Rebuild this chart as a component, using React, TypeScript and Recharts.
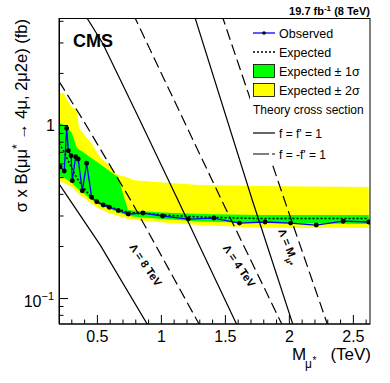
import React from "react";
import { ComposedChart, Area, Line, XAxis, YAxis } from "recharts";

const FONT = "'Liberation Sans', Arial, Helvetica, sans-serif";

// expected limit and bands, mass in TeV, cross section in fb
const bandMass = [0.2, 0.24, 0.255, 0.3, 0.34, 0.356, 0.3875, 0.458, 0.52, 0.583, 0.6375, 0.661, 0.739, 0.778, 0.856, 1.0125, 1.302, 1.77, 2.62];
const expected = [0.79, 0.707, 0.667, 0.563, 0.497, 0.478, 0.441, 0.38, 0.356, 0.343, 0.331, 0.327, 0.316, 0.314, 0.312, 0.304, 0.296, 0.29, 0.29];
const oneSigmaLo = [0.511, 0.497, 0.49, 0.465, 0.435, 0.424, 0.407, 0.371, 0.347, 0.331, 0.321, 0.316, 0.3, 0.298, 0.294, 0.288, 0.279, 0.273, 0.27];
const oneSigmaHi = [1.034, 1.007, 0.993, 0.905, 0.741, 0.727, 0.703, 0.645, 0.599, 0.553, 0.518, 0.504, 0.325, 0.323, 0.32, 0.314, 0.308, 0.304, 0.304];
const twoSigmaLo = [0.478, 0.465, 0.459, 0.441, 0.413, 0.402, 0.386, 0.352, 0.329, 0.3135, 0.304, 0.3, 0.288, 0.286, 0.282, 0.275, 0.266, 0.257, 0.256];
const twoSigmaHi = [1.54, 1.54, 1.44, 1.28, 1.23, 0.967, 0.905, 0.782, 0.655, 0.599, 0.531, 0.52, 0.5, 0.484, 0.478, 0.468, 0.453, 0.447, 0.441];

// observed limit
const obsMass = [0.208, 0.241, 0.26, 0.273, 0.294, 0.304, 0.33, 0.35, 0.382, 0.416, 0.455, 0.495, 0.546, 0.593, 0.663, 0.741, 0.856, 1.01, 1.21, 1.41, 1.61, 1.81, 2.01, 2.21, 2.42, 2.62];
const observed = [0.578, 0.546, 0.963, 0.715, 0.669, 0.48, 0.66, 0.64, 0.42, 0.605, 0.385, 0.363, 0.347, 0.337, 0.323, 0.308, 0.312, 0.3, 0.288, 0.292, 0.273, 0.277, 0.273, 0.266, 0.28, 0.277];

// theory cross sections
const lam8SolidMass = [0.2, 0.52, 0.9];
const lam8Solid = [0.46, 0.205, 0.069];
const lam8DashMass = [0.2, 0.39, 0.77, 1.3];
const lam8Dash = [1.8, 1.07, 0.36, 0.07];
const lam4SolidMass = [0.4, 0.54, 0.83, 1.13, 1.3, 1.6];
const lam4Solid = [4.4, 3.0, 1.08, 0.37, 0.2, 0.068];
const lam4DashMass = [0.78, 1.47, 1.95];
const lam4Dash = [4.4, 0.371, 0.069];
const lamMSolidMass = [1.25, 1.71, 2.03];
const lamMSolid = [4.5, 0.371, 0.07];
const lamMDashMass = [1.47, 1.97, 2.3];
const lamMDash = [4.4, 0.356, 0.07];

const xTicks = [0.3, 0.4, 0.5, 0.6, 0.7, 0.8, 0.9, 1, 1.1, 1.2, 1.3, 1.4, 1.5, 1.6, 1.7, 1.8, 1.9, 2, 2.1, 2.2, 2.3, 2.4, 2.5, 2.6];
const xMajor = [0.5, 1, 1.5, 2, 2.5];
const yTicks = [0.08, 0.09, 0.1, 0.2, 0.3, 0.4, 0.5, 0.6, 0.7, 0.8, 0.9, 1, 2, 3, 4];

const bandData = bandMass.map((m, i) => ({
  m,
  exp: expected[i],
  green: [oneSigmaLo[i], oneSigmaHi[i]],
  yellow: [twoSigmaLo[i], twoSigmaHi[i]],
}));
const pts = (ms: number[], vs: number[]) => ms.map((m, i) => ({ m, v: vs[i] }));
const obsData = pts(obsMass, observed);

const DASH = "11 5";

const XTick = (props: any) => {
  const { x, y, payload } = props;
  const v = Math.round(payload.value * 10) / 10;
  const major = xMajor.includes(v);
  return (
    <g>
      <line x1={x} x2={x} y1={y} y2={y - (major ? 9 : 4.5)} stroke="#000" />
      {major && (
        <text x={x} y={y + 18} textAnchor="middle" fontSize={16} fontFamily={FONT} fill="#000">
          {String(v)}
        </text>
      )}
    </g>
  );
};

const YTick = (props: any) => {
  const { x, y, payload } = props;
  const v = payload.value;
  const major = v === 1 || v === 0.1;
  return (
    <g>
      <line x1={x} x2={x + (major ? 9 : 4.5)} y1={y} y2={y} stroke="#000" />
      {v === 1 && (
        <text x={x - 4} y={y + 5.5} textAnchor="end" fontSize={16} fontFamily={FONT} fill="#000">1</text>
      )}
      {v === 0.1 && (
        <text x={x - 5} y={y + 8} textAnchor="end" fontSize={16} fontFamily={FONT} fill="#000">
          10<tspan dy={-7} fontSize={11}>−1</tspan>
        </text>
      )}
    </g>
  );
};

const lab = { fontFamily: FONT, fill: "#000" };

export default function App() {
  return (
    <div style={{ position: "absolute", left: 0, top: 0, width: 390, height: 383, background: "#fff" }}>
      <ComposedChart width={390} height={383} data={bandData} margin={{ top: 18, right: 20, left: 0, bottom: 0 }}>
        <XAxis
          dataKey="m"
          type="number"
          domain={[0.2, 2.63]}
          allowDataOverflow
          ticks={xTicks}
          interval={0}
          height={59}
          tickSize={0}
          tickMargin={0}
          tickLine={false}
          axisLine={{ stroke: "#000" }}
          tick={<XTick />}
        />
        <YAxis
          scale="log"
          type="number"
          domain={[0.0713, 4.18]}
          allowDataOverflow
          ticks={yTicks}
          interval={0}
          width={59}
          tickSize={0}
          tickMargin={0}
          tickLine={false}
          axisLine={{ stroke: "#000" }}
          tick={<YTick />}
        />
        <Area dataKey="yellow" type="linear" fill="#ffff00" fillOpacity={1} stroke="none" isAnimationActive={false} />
        <Area dataKey="green" type="linear" fill="#00ff00" fillOpacity={1} stroke="none" isAnimationActive={false} />
        <Line dataKey="exp" type="linear" stroke="#000" strokeWidth={1.5} strokeDasharray="2 2" dot={false} isAnimationActive={false} />
        <Line data={obsData} dataKey="v" type="linear" stroke="#0000ff" strokeWidth={1.3} dot={{ r: 1.8, fill: "#000", stroke: "#000" }} isAnimationActive={false} />
        <Line data={pts(lam8SolidMass, lam8Solid)} dataKey="v" type="linear" stroke="#000" strokeWidth={1.2} dot={false} isAnimationActive={false} />
        <Line data={pts(lam8DashMass, lam8Dash)} dataKey="v" type="linear" stroke="#000" strokeWidth={1.2} strokeDasharray={DASH} dot={false} isAnimationActive={false} />
        <Line data={pts(lam4SolidMass, lam4Solid)} dataKey="v" type="linear" stroke="#000" strokeWidth={1.2} dot={false} isAnimationActive={false} />
        <Line data={pts(lam4DashMass, lam4Dash)} dataKey="v" type="linear" stroke="#000" strokeWidth={1.2} strokeDasharray={DASH} dot={false} isAnimationActive={false} />
        <Line data={pts(lamMSolidMass, lamMSolid)} dataKey="v" type="linear" stroke="#000" strokeWidth={1.2} dot={false} isAnimationActive={false} />
        <Line data={pts(lamMDashMass, lamMDash)} dataKey="v" type="linear" stroke="#000" strokeWidth={1.2} strokeDasharray={DASH} dot={false} isAnimationActive={false} />
      </ComposedChart>
      <svg width={390} height={383} style={{ position: "absolute", left: 0, top: 0, pointerEvents: "none" }}>
        {/* legend */}
        <rect x={250} y={20} width={119} height={143} fill="#fff" />
        <line x1={253} x2={275} y1={33} y2={33} stroke="#0000ff" strokeWidth={1.3} />
        <circle cx={264} cy={33} r={1.8} fill="#000" />
        <text x={279} y={37.5} fontSize={12.5} {...lab}>Observed</text>
        <line x1={253} x2={275} y1={52} y2={52} stroke="#000" strokeWidth={1.5} strokeDasharray="2 2" />
        <text x={279} y={56.5} fontSize={12.5} {...lab}>Expected</text>
        <rect x={253.5} y={64.5} width={21} height={13} fill="#00ff00" stroke="#000" strokeWidth={0.8} />
        <text x={279} y={75.5} fontSize={12.5} {...lab}>Expected ± 1σ</text>
        <rect x={253.5} y={83.5} width={21} height={13} fill="#ffff00" stroke="#000" strokeWidth={0.8} />
        <text x={279} y={94.5} fontSize={12.5} {...lab}>Expected ± 2σ</text>
        <text x={253} y={113.5} fontSize={12} {...lab}>Theory cross section</text>
        <line x1={253} x2={275} y1={133} y2={133} stroke="#000" strokeWidth={1.2} />
        <text x={279} y={137.5} fontSize={12} {...lab}>f = f' = 1</text>
        <line x1={253} x2={275} y1={154} y2={154} stroke="#000" strokeWidth={1.2} strokeDasharray="16 3 3 3" />
        <text x={279} y={158.5} fontSize={12} {...lab}>f = -f' = 1</text>

        {/* labels */}
        <text x={73} y={47} fontSize={18} fontWeight="bold" {...lab}>CMS</text>
        <text x={370} y={15} fontSize={11} fontWeight="bold" textAnchor="end" {...lab}>
          19.7 fb<tspan dy={-4} fontSize={8}>-1</tspan><tspan dy={4}> (8 TeV)</tspan>
        </text>
        <text transform="translate(27,19) rotate(-90)" fontSize={16.5} textAnchor="end" {...lab}>
          σ x B(μμ<tspan dy={-6} fontSize={12}>*</tspan><tspan dy={6}> → 4μ, 2μ2e) (fb)</tspan>
        </text>
        <text x={292} y={360} fontSize={17} {...lab}>M</text>
        <text x={305} y={368} fontSize={12} {...lab}>μ</text>
        <text x={312.5} y={364} fontSize={10} {...lab}>*</text>
        <text x={371} y={360} fontSize={17} textAnchor="end" {...lab}>(TeV)</text>

        <text transform="translate(142.5,267) rotate(56)" fontSize={11} fontWeight="bold" textAnchor="middle" {...lab}>Λ = 8 TeV</text>
        <text transform="translate(236,268) rotate(56)" fontSize={11} fontWeight="bold" textAnchor="middle" {...lab}>Λ = 4 TeV</text>
        <text transform="translate(285,248) rotate(68)" fontSize={11} fontWeight="bold" textAnchor="middle" {...lab}>
          Λ = M<tspan dy={4} fontSize={8}>μ*</tspan>
        </text>

        <rect x={59.5} y={18.5} width={310.5} height={305.5} fill="none" stroke="#000" strokeWidth={1} />
      </svg>
    </div>
  );
}
